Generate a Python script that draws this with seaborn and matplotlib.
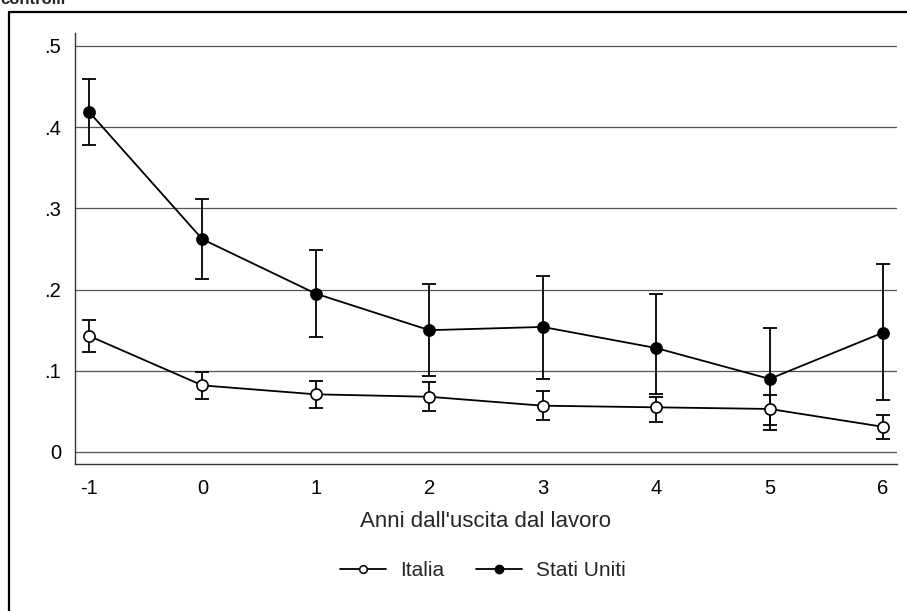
import matplotlib
matplotlib.use("Agg")
import matplotlib.pyplot as plt
from matplotlib.lines import Line2D
import seaborn as sns
import pandas as pd

anni = [-1, 0, 1, 2, 3, 4, 5, 6]

italia = [0.143, 0.082, 0.071, 0.068, 0.057, 0.055, 0.053, 0.031]
italia_lo = [0.123, 0.065, 0.054, 0.051, 0.040, 0.037, 0.033, 0.016]
italia_hi = [0.162, 0.099, 0.087, 0.086, 0.075, 0.068, 0.070, 0.046]

usa = [0.419, 0.262, 0.195, 0.150, 0.154, 0.128, 0.090, 0.147]
usa_lo = [0.378, 0.213, 0.141, 0.094, 0.090, 0.071, 0.027, 0.064]
usa_hi = [0.459, 0.312, 0.249, 0.207, 0.217, 0.195, 0.153, 0.232]

yticks = [0, 0.1, 0.2, 0.3, 0.4, 0.5]
ytick_labels = ["0", ".1", ".2", ".3", ".4", ".5"]

df = pd.DataFrame({
    "anni": anni * 2,
    "quota": italia + usa,
    "lo": italia_lo + usa_lo,
    "hi": italia_hi + usa_hi,
    "paese": ["Italia"] * len(anni) + ["Stati Uniti"] * len(anni),
})

sns.set_style("white")
plt.rcParams["font.family"] = ["Liberation Sans", "DejaVu Sans"]

fig = plt.figure(figsize=(9.07, 6.11), dpi=100)
ax = fig.add_axes([75 / 907, 1 - 464 / 611, (897 - 75) / 907, (464 - 33) / 611])

styles = {
    "Italia": dict(markerfacecolor="white"),
    "Stati Uniti": dict(markerfacecolor="black"),
}

for paese, sub in df.groupby("paese"):
    ax.errorbar(
        sub["anni"], sub["quota"],
        yerr=[sub["quota"] - sub["lo"], sub["hi"] - sub["quota"]],
        fmt="none", ecolor="black", elinewidth=1.3, capsize=5, capthick=1.3,
        zorder=2,
    )
    sns.lineplot(
        data=sub, x="anni", y="quota", ax=ax,
        color="black", linewidth=1.3, marker="o", markersize=8,
        markeredgecolor="black", markeredgewidth=1.2,
        zorder=3, legend=False, **styles[paese],
    )

ax.set_xlim(-1.123, 6.123)
ax.set_ylim(-0.0148, 0.516)
ax.set_xticks(anni)
ax.set_xticklabels([str(a) for a in anni])
ax.set_yticks(yticks)
ax.set_yticklabels(ytick_labels)
ax.yaxis.grid(True, color="#555555", linewidth=0.9)
ax.xaxis.grid(False)
ax.set_axisbelow(True)

for side in ["top", "right"]:
    ax.spines[side].set_visible(False)
for side in ["left", "bottom"]:
    ax.spines[side].set_color("#333333")
    ax.spines[side].set_linewidth(1.0)

ax.tick_params(axis="both", which="both", length=6, width=0.9, color="#333333",
               labelsize=14.5, colors="black")
ax.tick_params(axis="x", pad=5)
ax.tick_params(axis="y", pad=4)

ax.set_ylabel("")
ax.set_xlabel("Anni dall'uscita dal lavoro", fontsize=16, labelpad=9)

handles = [
    Line2D([], [], color="black", linewidth=1.3, marker="o", markersize=5.5,
           markerfacecolor="white", markeredgecolor="black", markeredgewidth=1.1),
    Line2D([], [], color="black", linewidth=1.3, marker="o", markersize=6,
           markerfacecolor="black", markeredgecolor="black"),
]
fig.legend(handles, ["Italia", "Stati Uniti"], loc="center",
           bbox_to_anchor=(483 / 907, 1 - 571 / 611), ncol=2, frameon=False,
           fontsize=15, handlelength=2.2, handletextpad=0.7, columnspacing=1.5)

# outer frame (cut by the image edges) and the clipped note above it
fig.add_artist(Line2D([9 / 907, 9 / 907], [-0.1, 1 - 12 / 611],
                      transform=fig.transFigure, color="black", linewidth=1.6))
fig.add_artist(Line2D([9 / 907, 1.1], [1 - 12 / 611, 1 - 12 / 611],
                      transform=fig.transFigure, color="black", linewidth=1.6))
fig.text(0.0, 1 - 4 / 611, "controlli", fontsize=12, fontweight="bold",
         va="baseline", ha="left")

fig.savefig("out.png", dpi=100)
